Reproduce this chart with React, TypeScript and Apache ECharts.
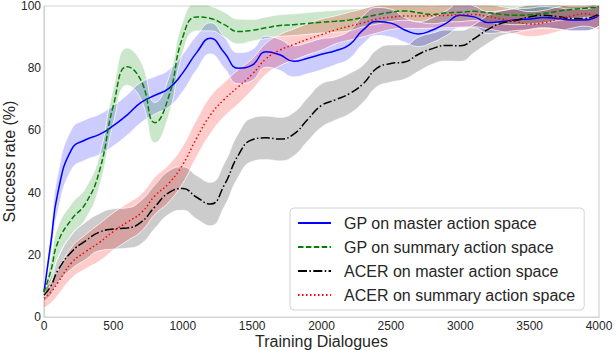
import React, { useEffect, useRef } from "react";
import * as echarts from "echarts";

const dialogues = [0, 50, 100, 200, 300, 400, 500, 600, 700, 800, 900, 1000, 1100, 1200, 1300, 1400, 1500, 1600, 1700, 1800, 1900, 2000, 2100, 2200, 2300, 2400, 2500, 2600, 2700, 2800, 2900, 3000, 3100, 3200, 3300, 3400, 3500, 3600, 3700, 3800, 3900, 4000];

const gpMaster = [8, 24, 40, 54, 57, 58.7, 61.5, 65, 69, 71.3, 73.5, 78.5, 85, 89.6, 85, 80, 81, 85.3, 84.3, 82.2, 83.2, 84.5, 85.6, 87.5, 92.3, 95, 94.5, 92.3, 91, 92.3, 94.5, 97, 96.5, 94.7, 95, 95.6, 95.8, 96.3, 96, 95.5, 95.5, 97];
const gpMasterSpread = [2, 4, 6, 6.5, 6.5, 6.5, 6.5, 6.5, 6.5, 6, 6, 6, 5.5, 5, 5, 5, 5, 5, 5, 5, 5, 5, 4.5, 4.5, 4.5, 4.5, 4.5, 4, 4, 4, 4, 4, 3.5, 3.5, 3.5, 3.5, 3.5, 3.5, 3.5, 3.5, 3.5, 3.5];

const gpSummary = [8, 15, 24, 31.5, 36.5, 47, 68, 80.5, 76, 62.5, 71, 90, 96.5, 96, 94, 91.8, 92.2, 93, 93.7, 94, 94.4, 94.8, 95.1, 95.5, 96.3, 97.2, 98, 98.4, 97.8, 97.3, 97.8, 98, 98.3, 97.8, 97.3, 97, 97.2, 97.6, 98.3, 98.9, 99.3, 99.7];
const gpSummarySpread = [2, 4, 5, 5, 5, 5, 5.5, 6, 6, 6.5, 6, 5, 4.5, 4, 4, 4, 3.5, 3.5, 3.5, 3.5, 3.5, 3.5, 3.5, 3.5, 3, 3, 3, 3, 3, 3, 3, 3, 3, 3, 3, 3, 3, 3, 3, 3, 3, 3];

const acerMaster = [7, 10, 15, 21, 24.5, 27.3, 28.3, 28.6, 30.5, 35.5, 40, 41.3, 38.5, 36.3, 42.5, 52, 57, 57.6, 57.2, 58.8, 63.5, 68, 69.8, 71.8, 75, 80, 81.5, 82, 84.5, 86.3, 87.3, 87.2, 89.5, 92.5, 94.5, 95.4, 96.5, 97, 96.6, 96, 96, 97.5];
const acerMasterSpread = [2, 3, 4, 5.5, 6, 6, 6.5, 6.5, 7, 7, 7, 7, 7, 7, 7, 7, 7, 7, 7, 7, 7, 7, 6.5, 6.5, 6, 6, 6, 5.5, 5.5, 5, 5, 5, 4.5, 4.5, 4, 4, 4, 4, 4, 4, 4, 4];

const acerSummary = [6, 8, 11, 17.5, 21, 24, 27.5, 30.5, 33.5, 39, 43, 49, 57.5, 65, 70, 74, 78, 83, 85.8, 87.6, 89.3, 90.8, 92.3, 93.5, 94.6, 95.8, 96.4, 96.8, 96.8, 96.9, 97, 97.2, 97.3, 96.6, 95.8, 95, 94.2, 94.6, 95.7, 96.8, 97.5, 96.2];
const acerSummarySpread = [3, 3.5, 4, 5, 5.5, 6, 6, 6, 6, 6, 6, 6, 6, 6, 5.5, 5.5, 5, 5, 5, 5, 5, 5, 4.5, 4.5, 4.5, 4.5, 4, 4, 4, 4, 4, 4, 4, 4, 4, 4, 4, 4, 4, 4, 4, 4];

const seriesNames = [
  "GP on master action space",
  "GP on summary action space",
  "ACER on master action space",
  "ACER on summary action space",
];
const xTicks = { min: 0, max: 4000, interval: 500 };
const yTicks = { min: 0, max: 100, interval: 20 };

const FONT = "Liberation Sans, Arial, sans-serif";
const SPINE = "#d4d4d4";

// Band data is given as [value, dialogue] with encode {x:1, y:0} so that the
// stack is applied to the success-rate dimension.
function band(key: string, mean: number[], spread: number[], fill: string) {
  const edge = { color: "rgba(255,255,255,0.75)", width: 1 };
  return [
    {
      type: "line",
      name: key + "-lo",
      stack: key,
      smooth: true,
      symbol: "none",
      silent: true,
      z: 1,
      encode: { x: 1, y: 0 },
      lineStyle: edge,
      data: dialogues.map((x, i) => [mean[i] - spread[i], x]),
    },
    {
      type: "line",
      name: key + "-hi",
      stack: key,
      smooth: true,
      symbol: "none",
      silent: true,
      z: 1,
      encode: { x: 1, y: 0 },
      lineStyle: edge,
      areaStyle: { color: fill, opacity: 1 },
      data: dialogues.map((x, i) => [2 * spread[i], x]),
    },
  ];
}

function mainLine(name: string, mean: number[], color: string, type: any) {
  return {
    type: "line",
    name,
    smooth: true,
    symbol: "none",
    z: 5,
    lineStyle: { color, width: 1.5, type },
    itemStyle: { color },
    data: dialogues.map((x, i) => [x, mean[i]]),
  };
}

export default function App() {
  const ref = useRef<HTMLDivElement>(null);
  useEffect(() => {
    const chart = echarts.init(ref.current!, null, { renderer: "svg" });
    chart.setOption({
      animation: false,
      backgroundColor: "#ffffff",
      grid: {
        left: 44, right: 17, top: 6, bottom: 33,
        outerBoundsMode: "none", containLabel: false,
        show: true, borderColor: SPINE, borderWidth: 1.2, backgroundColor: "transparent",
      },
      xAxis: {
        type: "value",
        ...xTicks,
        name: "Training Dialogues",
        nameLocation: "middle",
        nameGap: 16,
        nameMoveOverlap: false,
        nameTextStyle: { fontSize: 16, color: "#262626", fontFamily: FONT, verticalAlign: "top" },
        axisLine: { show: true, lineStyle: { color: SPINE, width: 1.2 } },
        axisTick: { show: false },
        splitLine: { show: false },
        axisLabel: { fontSize: 12, lineHeight: 12, color: "#262626", fontFamily: FONT, margin: 3, formatter: (v: number) => String(v) },
      },
      yAxis: {
        type: "value",
        ...yTicks,
        name: "Success rate (%)",
        nameLocation: "middle",
        nameGap: 27,
        nameMoveOverlap: false,
        nameTextStyle: { fontSize: 16, color: "#262626", fontFamily: FONT },
        axisLine: { show: true, lineStyle: { color: SPINE, width: 1.2 } },
        axisTick: { show: false },
        splitLine: { show: false },
        axisLabel: { fontSize: 12, lineHeight: 12, color: "#262626", fontFamily: FONT, margin: 3 },
      },
      legend: {
        data: seriesNames,
        orient: "vertical",
        left: 290,
        top: 208,
        padding: [7, 9, 7, 7],
        itemWidth: 33,
        itemHeight: 14,
        itemGap: 8,
        backgroundColor: "rgba(255,255,255,0.85)",
        borderColor: SPINE,
        borderWidth: 1,
        borderRadius: 4,
        itemStyle: { color: "rgba(0,0,0,0)", borderWidth: 0, opacity: 0 },
        textStyle: { fontSize: 16, color: "#262626", fontFamily: FONT, padding: [0, 0, 0, 8] },
      },
      series: [
        ...band("gpm", gpMaster, gpMasterSpread, "rgba(0,0,255,0.2)"),
        ...band("gps", gpSummary, gpSummarySpread, "rgba(0,128,0,0.2)"),
        ...band("acm", acerMaster, acerMasterSpread, "rgba(0,0,0,0.2)"),
        ...band("acs", acerSummary, acerSummarySpread, "rgba(255,0,0,0.2)"),
        mainLine(seriesNames[0], gpMaster, "#0000ff", "solid"),
        mainLine(seriesNames[1], gpSummary, "#008000", [5.5, 2.4]),
        mainLine(seriesNames[2], acerMaster, "#000000", [9, 2.4, 1.5, 2.4]),
        mainLine(seriesNames[3], acerSummary, "#ff0000", [1.5, 2.5]),
      ],
    });
    return () => chart.dispose();
  }, []);
  return <div ref={ref} style={{ width: 616, height: 350, position: "absolute", left: 0, top: 0 }} />;
}
